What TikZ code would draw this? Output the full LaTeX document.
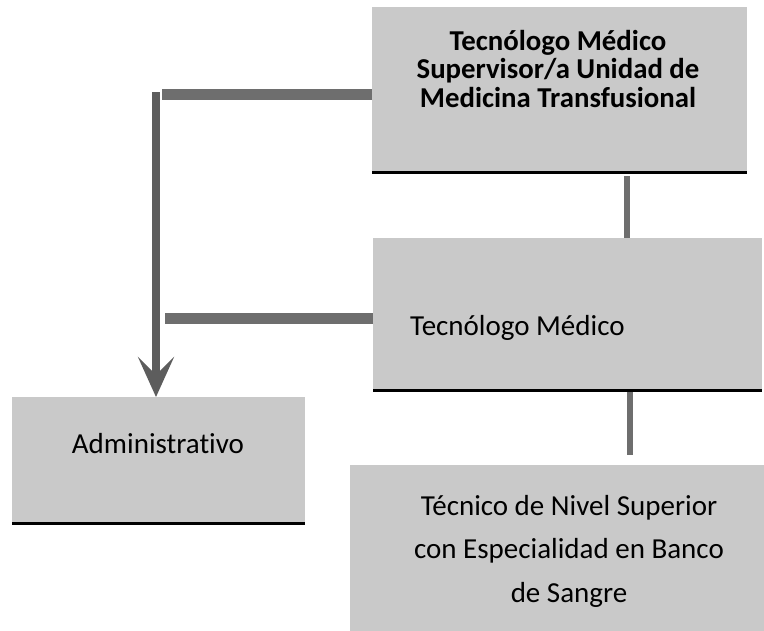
\documentclass[tikz,border=0pt]{standalone}
\usepackage{fontspec}
\setmainfont[Ligatures={NoCommon}]{Carlito}
\usetikzlibrary{arrows.meta}
\definecolor{boxgray}{HTML}{C9C9C9}
\definecolor{linkgray}{HTML}{6E6E6E}
\begin{document}
\begin{tikzpicture}[x=1pt,y=-1pt,
  box/.style={draw=none,fill=boxgray,inner sep=0pt,outer sep=0pt,anchor=north west},
  lbl/.style={inner sep=0pt,font=\fontsize{29}{28.5}\selectfont},
  hlink/.style={draw=linkgray,line width=11pt},
  vlink/.style={draw=linkgray,line width=6pt},
  baseline/.style={draw=black,line width=3pt}]
\path[use as bounding box] (0,0) rectangle (764,630);
% boxes
\node[box,minimum width=375pt,minimum height=165pt] (top) at (372,7) {};
\node[box,minimum width=389pt,minimum height=152pt] (mid) at (373,238) {};
\node[box,minimum width=414pt,minimum height=170pt] (bot) at (350,465) {};
\node[box,minimum width=293pt,minimum height=126pt] (adm) at (12,397) {};
\draw[baseline] (top.south west) -- (top.south east);
\draw[baseline] (mid.south west) -- (mid.south east);
\draw[baseline] (adm.south west) -- (adm.south east);
% texts
\node[lbl,anchor=base,font=\fontsize{28.8}{28.5}\selectfont\bfseries] (ttop) at (558,50)
  {\begin{tabular}[t]{@{}c@{}}Tecnólogo Médico\\Supervisor/a Unidad de\\Medicina Transfusional\end{tabular}};
\node[lbl,anchor=base west] (tmid) at (410,335) {Tecnólogo Médico};
\node[lbl,anchor=base] (tadm) at (158,453) {Administrativo};
\node[lbl,anchor=base,font=\fontsize{29}{43.5}\selectfont] (tbot) at (569,515)
  {\begin{tabular}[t]{@{}c@{}}Técnico de Nivel Superior\\con Especialidad en Banco\\de Sangre\end{tabular}};
% connectors
\coordinate (v1) at (627,176);
\coordinate (v2) at (630,392);
\coordinate (v2end) at (630,455);
\draw[vlink] (v1) -- (v1 |- mid.north);
\draw[vlink] (v2) -- (v2end);
\coordinate (h1) at (162,94);
\coordinate (h2) at (165,318);
\coordinate (c1) at (156,92);
\draw[hlink] (top.west |- h1) -- (h1);
\draw[hlink] (mid.west |- h2) -- (h2);
\draw[draw=linkgray!85!black,line width=8pt,
  -{Stealth[length=40pt,width=36pt,inset=18pt]}] (c1) -- (c1 |- adm.north);
\end{tikzpicture}
\end{document}
